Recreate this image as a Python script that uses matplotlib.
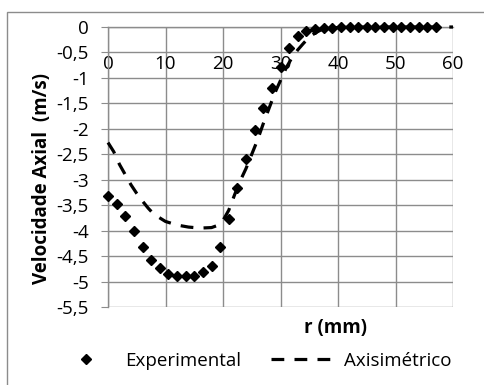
import matplotlib
matplotlib.use('Agg')
import matplotlib.pyplot as plt

plt.rcParams['font.family'] = ['Open Sans', 'DejaVu Sans']

# measured profile, r step 1.5 mm
r_exp = [0, 1.5, 3, 4.5, 6, 7.5, 9, 10.5, 12, 13.5, 15, 16.5, 18, 19.5,
         21, 22.5, 24, 25.5, 27, 28.5, 30, 31.5, 33, 34.5, 36, 37.5, 39,
         40.5, 42, 43.5, 45, 46.5, 48, 49.5, 51, 52.5, 54, 55.5, 57]
v_exp = [-3.32, -3.47, -3.72, -4.01, -4.33, -4.58, -4.74, -4.85, -4.90,
         -4.90, -4.89, -4.82, -4.69, -4.32, -3.78, -3.17, -2.60, -2.03,
         -1.60, -1.19, -0.78, -0.42, -0.17, -0.07, -0.03, -0.02, -0.01,
         0, 0, 0, 0, 0, 0, 0, 0, 0, 0, 0, 0]

# axisymmetric simulation
r_axi = [0, 1, 2, 3, 4, 5, 6, 7, 8, 10, 12, 14, 16, 18, 19, 20, 21, 22,
         23, 24, 25, 26, 27, 28, 29, 30, 31, 32, 33, 34, 35, 36, 37, 38,
         40, 45, 50, 55, 60]
v_axi = [-2.27, -2.45, -2.70, -2.90, -3.10, -3.27, -3.42, -3.56, -3.68,
         -3.82, -3.89, -3.93, -3.95, -3.94, -3.90, -3.80, -3.60, -3.30,
         -3.02, -2.78, -2.50, -2.22, -1.90, -1.60, -1.30, -1.05, -0.80,
         -0.60, -0.45, -0.32, -0.20, -0.12, -0.06, -0.03, -0.01, 0, 0, 0, 0]

x_ticks = [0, 10, 20, 30, 40, 50, 60]
y_ticks = [0, -0.5, -1, -1.5, -2, -2.5, -3, -3.5, -4, -4.5, -5, -5.5]

grey = '#8c8c8c'
fs = 13.5

fig = plt.figure(figsize=(4.84, 3.85), dpi=100)
ax = fig.add_axes([108 / 484, 1 - 307 / 385, 345 / 484, 280 / 385])

# chart frame
fig.patches.append(plt.Rectangle((7 / 484, -0.1), 1.2, 1 - 12 / 385 + 0.1,
                                 transform=fig.transFigure, fill=False,
                                 edgecolor=grey, lw=1.0))

ax.plot(r_exp, v_exp, linestyle='none', marker='D', ms=5.0, color='black',
        label='Experimental', clip_on=False, zorder=4)
ax.plot(r_axi, v_axi, color='black', lw=2.3, dashes=(4, 3.2),
        label='Axisimétrico', clip_on=False, zorder=3)

ax.set_xlim(0, 60)
ax.set_ylim(-5.5, 0)
ax.set_xticks(x_ticks)
ax.set_yticks(y_ticks)
ax.set_yticklabels([('%g' % v).replace('.', ',') for v in y_ticks])
ax.grid(True, color=grey, lw=1.0)
ax.set_axisbelow(True)

for s in ['top', 'right']:
    ax.spines[s].set_visible(False)
ax.spines['bottom'].set_position(('data', 0))
for s in ['left', 'bottom']:
    ax.spines[s].set_color(grey)
    ax.spines[s].set_linewidth(1.0)

ax.tick_params(axis='x', length=0, pad=20, labelsize=fs)
ax.tick_params(axis='y', length=5, color=grey, pad=9, labelsize=fs)

fig.text(335 / 484, 1 - 328 / 385, 'r (mm)', ha='center', va='center',
         fontsize=fs, fontweight='bold')
fig.text(42 / 484, 1 - 178 / 385, 'Velocidade Axial  (m/s)', ha='center',
         va='center', rotation=90, fontsize=fs, fontweight='bold')

fig.legend(loc='center', bbox_to_anchor=(0.52, 1 - 361 / 385), ncol=2,
           frameon=False, fontsize=fs, handlelength=3.6, handletextpad=0.3,
           columnspacing=1.6)

fig.savefig('out.png', dpi=100)
